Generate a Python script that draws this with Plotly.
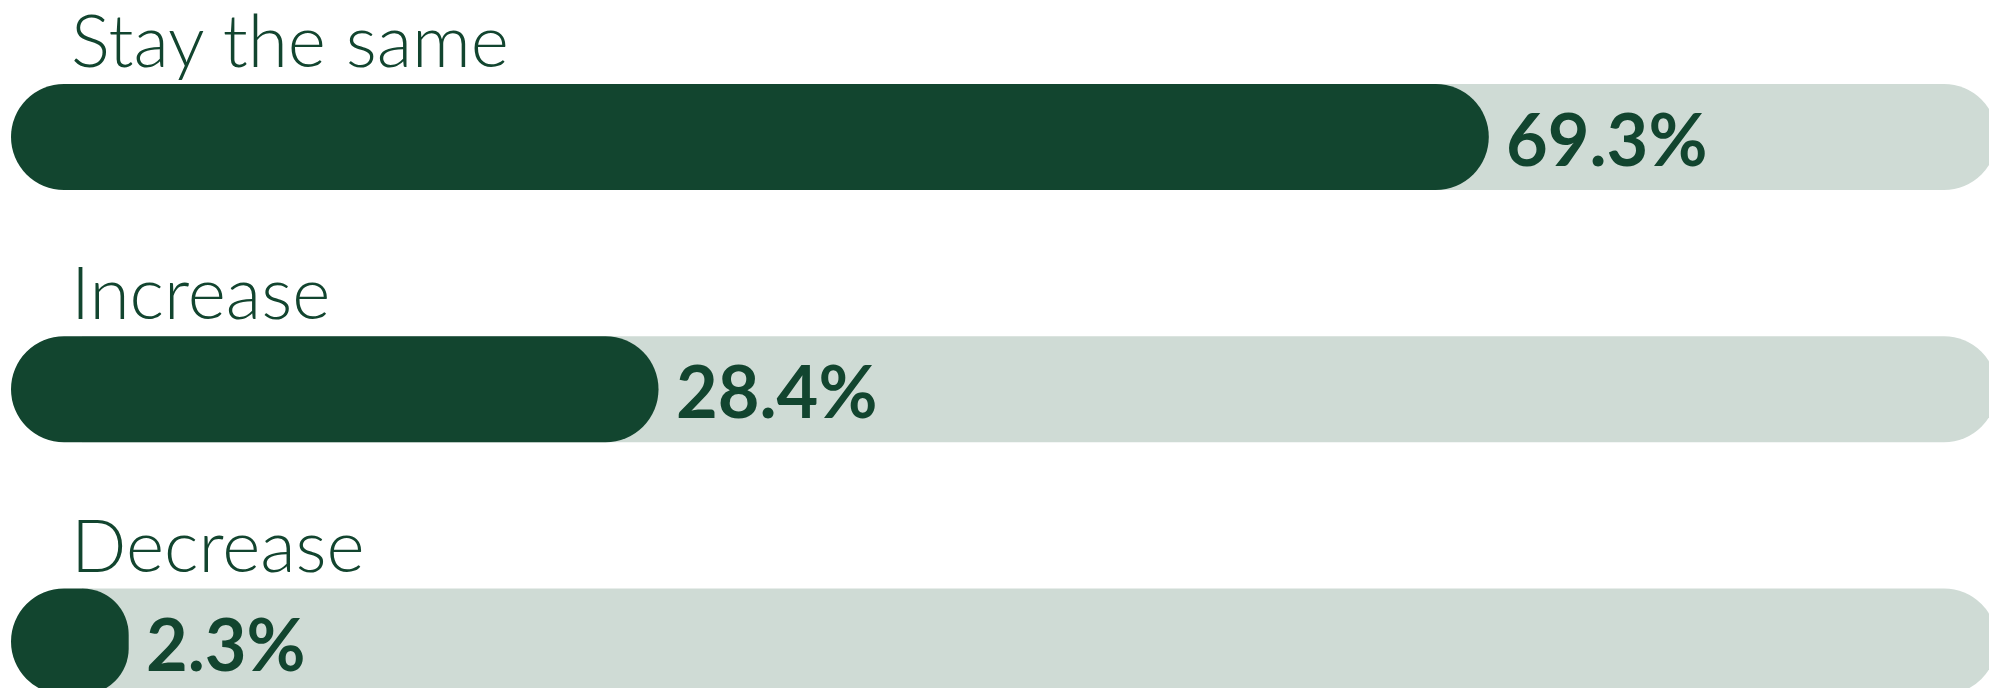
import plotly.graph_objects as go

# ---- data ----
categories = ["Stay the same", "Increase", "Decrease"]
values = [69.3, 28.4, 2.3]
value_labels = ["69.3%", "28.4%", "2.3%"]

# ---- style constants ----
DARK = "#12452F"
LIGHT = "#CFDBD5"
W, H = 1989, 688
PX_PER_UNIT = 20.3           # horizontal scale (px per percentage point)
ZERO_PX = 82                 # pixel where 0 % sits
TRACK_END = (1997 - ZERO_PX) / PX_PER_UNIT   # light track end (axis units)
LEFT_CAP = 71 / PX_PER_UNIT                  # rounded start cap (axis units)
ROW_PX = 252.25
FIRST_ROW_PX = 137
BAR_PX = 106

x_range = [-ZERO_PX / PX_PER_UNIT, (W - ZERO_PX) / PX_PER_UNIT]
y_top = -FIRST_ROW_PX / ROW_PX
y_bot = (H - FIRST_ROW_PX) / ROW_PX
bar_w = BAR_PX / ROW_PX

fig = go.Figure()

# light track (rounded at far end) on the base axes
fig.add_trace(go.Bar(
    y=categories, x=[TRACK_END] * len(categories), orientation="h",
    width=bar_w, marker=dict(color=LIGHT, line=dict(width=0), cornerradius="50%"),
    hoverinfo="skip", showlegend=False, xaxis="x", yaxis="y",
))
# dark rounded start cap (negative direction -> rounded on the left)
fig.add_trace(go.Bar(
    y=categories, x=[-LEFT_CAP] * len(categories), orientation="h",
    width=bar_w, marker=dict(color=DARK, line=dict(width=0), cornerradius="50%"),
    hoverinfo="skip", showlegend=False, xaxis="x2", yaxis="y2",
))
# dark value bar (rounded on the right)
fig.add_trace(go.Bar(
    y=categories, x=values, orientation="h",
    width=bar_w, marker=dict(color=DARK, line=dict(width=0), cornerradius="50%"),
    hoverinfo="skip", showlegend=False, xaxis="x2", yaxis="y2",
))

annotations = []
for cat, v, lab in zip(categories, values, value_labels):
    annotations.append(dict(
        x=0.0345, xref="paper", y=cat, yref="y",
        xanchor="left", yanchor="bottom", yshift=BAR_PX / 2 - 1,
        text=cat, showarrow=False,
        font=dict(family="Lato", size=73, color=DARK, weight=300),
    ))
    annotations.append(dict(
        x=v, xref="x2", y=cat, yref="y2",
        xanchor="left", yanchor="middle", xshift=15, yshift=-1,
        text=lab, showarrow=False,
        font=dict(family="Lato", size=72, color=DARK, weight=700),
    ))

axis_x = dict(range=x_range, visible=False, fixedrange=True)
axis_y = dict(range=[y_bot, y_top], categoryorder="array", categoryarray=categories,
              visible=False, fixedrange=True)

fig.update_layout(
    width=W, height=H,
    margin=dict(l=0, r=0, t=0, b=0),
    paper_bgcolor="white", plot_bgcolor="white",
    barmode="overlay",
    xaxis=axis_x,
    yaxis=axis_y,
    xaxis2=dict(axis_x, overlaying="x"),
    yaxis2=dict(axis_y, overlaying="y"),
    annotations=annotations,
    showlegend=False,
)

fig.write_html(
    "out.html",
    config={"displayModeBar": False},
    post_script="document.body.style.margin='0';document.body.style.overflow='hidden';",
)
